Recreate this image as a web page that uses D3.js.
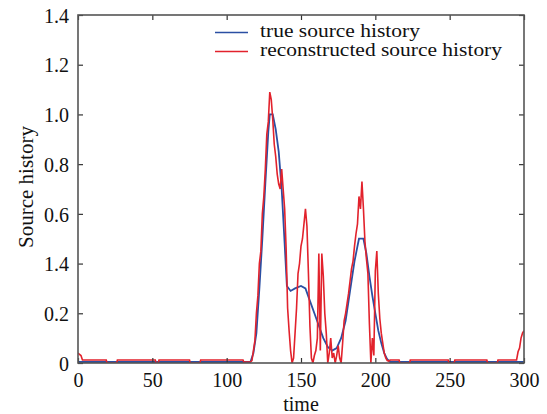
<!DOCTYPE html>
<html>
<head>
<meta charset="utf-8">
<script src="https://cdn.jsdelivr.net/npm/d3@7"></script>
<style>
  body { margin: 0; background: #fff; }
  text { font-family: "Liberation Serif", "Times New Roman", serif; fill: #111; }
</style>
</head>
<body>
<div id="chart"></div>
<script>
var svgWidth = 547;
var svgHeight = 414;

var margin = { top: 15, right: 23, bottom: 51, left: 78 };
var width = svgWidth - margin.left - margin.right;
var height = svgHeight - margin.top - margin.bottom;

// tick values and the labels printed next to them (as in the figure)
var xTicks = [0, 50, 100, 150, 200, 250, 300];
var yTicks = [0, 0.2, 0.4, 0.6, 0.8, 1.0, 1.2, 1.4];
var yTickLabels = ["0", "0.2", "1.4", "0.6", "0.8", "1.0", "1.2", "1.4"];

// true source history
var trueTime = [0, 116, 118, 120, 122, 124, 126, 128, 129, 131, 133, 135, 137, 139, 140.5,
    143, 146, 150, 153, 156, 159, 162, 165, 168, 171, 174, 177, 180, 182, 184, 186, 188,
    189, 192, 194, 196, 198, 200, 202, 204, 206, 208, 210, 300];
var trueValue = [0.004, 0.004, 0.04, 0.12, 0.30, 0.50, 0.72, 0.93, 1.0, 1.0, 0.94, 0.85, 0.70, 0.48, 0.31,
    0.29, 0.30, 0.31, 0.30, 0.25, 0.20, 0.15, 0.10, 0.065, 0.05, 0.06, 0.10, 0.17, 0.25, 0.33, 0.41, 0.47,
    0.50, 0.50, 0.44, 0.35, 0.27, 0.20, 0.13, 0.08, 0.04, 0.015, 0.004, 0.004];

// reconstructed source history
var reconTime = [0, 1, 2, 3, 19, 19.5, 26, 26.5, 52, 52.5, 54, 54.5, 75, 75.5, 82, 82.5, 111, 111.5,
    116, 117, 118, 119, 120, 121, 122, 123, 124, 125, 126, 127, 128, 129, 130, 131, 132, 133, 134,
    135, 136, 137, 138, 139, 140, 141, 142, 143, 144, 145, 146, 147, 148, 149, 150, 151, 152, 153,
    154, 155, 156, 157, 158, 159, 160, 161, 162, 163, 164, 165, 166, 167, 168, 169, 170, 171, 172,
    173, 174, 175, 176, 177, 178, 179, 180, 181, 182, 183, 184, 185, 186, 187, 188, 189, 190, 191,
    192, 193, 194, 195, 196, 197, 198, 199, 200, 201, 202, 203, 204, 205, 206, 207, 208, 209, 210,
    216, 216.5, 223, 223.5, 249, 249.5, 253, 253.5, 275, 275.5, 282, 282.5, 295, 296, 297, 298, 299, 300];
var reconValue = [0.04, 0.035, 0.03, 0.012, 0.012, 0, 0, 0.012, 0.012, 0, 0, 0.012, 0.012, 0, 0, 0.012, 0.012, 0.004,
    0.005, 0.01, 0.05, 0.09, 0.20, 0.27, 0.40, 0.45, 0.60, 0.67, 0.78, 0.92, 0.97, 1.09, 1.06, 0.98, 0.88, 0.83, 0.76,
    0.72, 0.70, 0.78, 0.70, 0.62, 0.46, 0.22, 0.13, 0.05, 0.0, 0.02, 0.12, 0.22, 0.36, 0.40, 0.47, 0.50, 0.56, 0.62,
    0.55, 0.36, 0.15, 0.02, 0.0, 0.03, 0.05, 0.10, 0.44, 0.05, 0.44, 0.35, 0.20, 0.12, 0.0, 0.04, 0.10, 0.02, 0.04,
    0.0, 0.03, 0.07, 0.02, 0.0, 0.08, 0.17, 0.20, 0.24, 0.28, 0.33, 0.38, 0.41, 0.47, 0.52, 0.56, 0.67, 0.62, 0.73,
    0.62, 0.49, 0.42, 0.36, 0.16, 0.0, 0.10, 0.03, 0.37, 0.45, 0.28, 0.18, 0.12, 0.08, 0.04, 0.02, 0.01, 0.008, 0.012,
    0.012, 0, 0, 0.012, 0.012, 0, 0, 0.012, 0.012, 0, 0, 0.012, 0.012, 0.045, 0.06, 0.10, 0.12, 0.13];

var legendNames = ["true source history", "reconstructed source history"];
var lineColors = ["#2b4fa3", "#e2222c"];

var trueData = trueTime.map((t, i) => ({ t: t, v: trueValue[i] }));
var reconData = reconTime.map((t, i) => ({ t: t, v: reconValue[i] }));

var svg = d3.select("#chart")
    .append("svg")
    .attr("width", svgWidth)
    .attr("height", svgHeight);

var chartGroup = svg.append("g")
    .attr("transform", `translate(${margin.left}, ${margin.top})`);

var xLinearScale = d3.scaleLinear().domain([0, 300]).range([0, width]);
var yLinearScale = d3.scaleLinear().domain([0, 1.4]).range([height, 0]);

chartGroup.append("clipPath")
    .attr("id", "plotclip")
    .append("rect")
    .attr("width", width)
    .attr("height", height);

var line = d3.line()
    .x(d => xLinearScale(d.t))
    .y(d => yLinearScale(d.v));

var lines = chartGroup.append("g").attr("clip-path", "url(#plotclip)");

lines.append("path")
    .datum(trueData)
    .attr("fill", "none")
    .attr("stroke", lineColors[0])
    .attr("stroke-width", 1.8)
    .attr("d", line);

lines.append("path")
    .datum(reconData)
    .attr("fill", "none")
    .attr("stroke", lineColors[1])
    .attr("stroke-width", 1.6)
    .attr("d", line);

// axes with inward ticks on all four sides
var bottomAxis = d3.axisBottom(xLinearScale).tickValues(xTicks).tickSizeInner(-5).tickSizeOuter(0)
    .tickPadding(10).tickFormat(d3.format("d"));
var topAxis = d3.axisTop(xLinearScale).tickValues(xTicks).tickSizeInner(-5).tickSizeOuter(0).tickFormat("");
var leftAxis = d3.axisLeft(yLinearScale).tickValues(yTicks).tickSizeInner(-5).tickSizeOuter(0)
    .tickPadding(9).tickFormat((d, i) => yTickLabels[i]);
var rightAxis = d3.axisRight(yLinearScale).tickValues(yTicks).tickSizeInner(-5).tickSizeOuter(0).tickFormat("");

var xAxis = chartGroup.append("g")
    .attr("transform", `translate(0, ${height})`)
    .call(bottomAxis);
chartGroup.append("g").call(topAxis);
var yAxis = chartGroup.append("g").call(leftAxis);
chartGroup.append("g").attr("transform", `translate(${width}, 0)`).call(rightAxis);

chartGroup.selectAll(".domain").remove();
chartGroup.selectAll(".tick line").attr("stroke", "#333").attr("stroke-width", 1.2);
chartGroup.selectAll(".tick text")
    .attr("font-size", "20px")
    .attr("font-family", "Liberation Serif, serif")
    .attr("fill", "#111");
yAxis.selectAll(".tick text").attr("dy", "0.36em");

chartGroup.append("rect")
    .attr("width", width)
    .attr("height", height)
    .attr("fill", "none")
    .attr("stroke", "#555")
    .attr("stroke-width", 1.6);

// axis titles
chartGroup.append("text")
    .attr("x", width / 2)
    .attr("y", height + 48)
    .attr("text-anchor", "middle")
    .attr("font-size", "20px")
    .text("time");

chartGroup.append("text")
    .attr("transform", "rotate(-90)")
    .attr("x", 0 - 172)
    .attr("y", 0 - 45)
    .attr("text-anchor", "middle")
    .attr("font-size", "21px")
    .text("Source history");

// legend (text is stretched a little, as in the figure)
var legendWidths = [160, 242];
var legend = chartGroup.append("g")
    .attr("transform", `translate(${215 - margin.left}, ${32.5 - margin.top})`);

legendNames.forEach(function (name, i) {
    legend.append("line")
        .attr("x1", 0)
        .attr("x2", 33)
        .attr("y1", i * 19)
        .attr("y2", i * 19)
        .attr("stroke", lineColors[i])
        .attr("stroke-width", 1.6);
    legend.append("text")
        .attr("x", 45)
        .attr("y", i * 19 + 4)
        .attr("font-size", "18px")
        .attr("textLength", legendWidths[i])
        .attr("lengthAdjust", "spacingAndGlyphs")
        .text(name);
});
</script>
</body>
</html>
